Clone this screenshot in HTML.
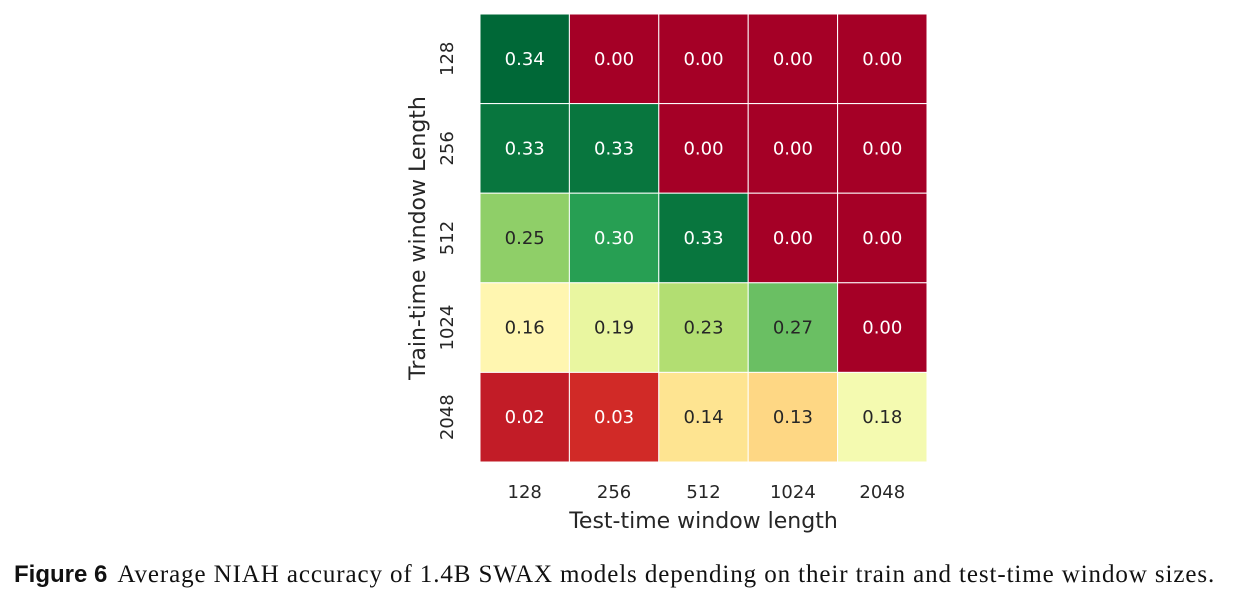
<!DOCTYPE html>
<html><head><meta charset="utf-8"><style>
body{margin:0;background:#fff;width:1242px;height:599px;overflow:hidden;position:relative}
svg{position:absolute;left:0;top:0}
#cap{position:absolute;left:14px;top:561px;white-space:nowrap;font-family:"Liberation Serif",serif;font-size:25px;color:#111}
#cap b{font-family:"Liberation Sans",sans-serif;font-size:24px;margin-right:10px}
#cap span{letter-spacing:0.9px}
</style></head><body>
<svg id="chart" width="1242" height="560"></svg>
<div id="cap"><b>Figure 6</b><span>Average NIAH accuracy of 1.4B SWAX models depending on their train and test-time window sizes.</span></div>
<script>
const testLengths=["128","256","512","1024","2048"];
const trainLengths=["128","256","512","1024","2048"];
const row128=[0.34,0.00,0.00,0.00,0.00];
const row256=[0.33,0.33,0.00,0.00,0.00];
const row512=[0.25,0.30,0.33,0.00,0.00];
const row1024=[0.16,0.19,0.23,0.27,0.00];
const row2048=[0.02,0.03,0.14,0.13,0.18];
const values=[row128,row256,row512,row1024,row2048];
const vmin=0,vmax=0.34;
const stops=["#a50026","#d73027","#f46d43","#fdae61","#fee08b","#ffffbf","#d9ef8b","#a6d96a","#66bd63","#1a9850","#006837"];
function hex(h){return [1,3,5].map(i=>parseInt(h.substr(i,2),16));}
function cmap(v){let t=Math.max(0,Math.min(1,(v-vmin)/(vmax-vmin)))*(stops.length-1);let i=Math.min(Math.floor(t),stops.length-2),f=t-i;let a=hex(stops[i]),b=hex(stops[i+1]);let c=a.map((x,k)=>Math.round(x+(b[k]-x)*f));return {c:`rgb(${c})`,l:(0.299*c[0]+0.587*c[1]+0.114*c[2])};}
const X0=480,Y0=14,W=447,H=448;
const cw=W/testLengths.length,ch=H/trainLengths.length;
const xs=i=>X0+i*cw, ys=j=>Y0+j*ch;
const svg=document.getElementById('chart');const NS="http://www.w3.org/2000/svg";
function el(t,a){const e=document.createElementNS(NS,t);for(const k in a)e.setAttribute(k,a[k]);svg.appendChild(e);return e;}
values.forEach((row,j)=>row.forEach((v,i)=>{
 const m=cmap(v);
 const r=el('rect',{x:xs(i),y:ys(j),width:cw,height:ch,fill:m.c,stroke:'#fff','stroke-width':1});
 
 
 const t=el('text',{x:xs(i)+cw/2,y:ys(j)+ch/2+6,'text-anchor':'middle','font-family':'DejaVu Sans,sans-serif','font-size':18,fill:m.l<140?'#fff':'#262626'});
 t.textContent=v.toFixed(2);
 
 
}));
testLengths.forEach((s,i)=>{const t=el('text',{x:xs(i)+cw/2,y:498,'text-anchor':'middle','font-family':'DejaVu Sans,sans-serif','font-size':18,fill:'#262626'});t.textContent=s;
 
 });
trainLengths.forEach((s,j)=>{const cy=ys(j)+ch/2;const t=el('text',{x:453,y:cy,'text-anchor':'middle','font-family':'DejaVu Sans,sans-serif','font-size':18,fill:'#262626',transform:`rotate(-90 453 ${cy})`});t.textContent=s;
 
 });
const xt=el('text',{x:X0+W/2,y:528,'text-anchor':'middle','font-family':'DejaVu Sans,sans-serif','font-size':22,fill:'#262626'});xt.textContent='Test-time window length';


const yt=el('text',{x:425,y:238,'text-anchor':'middle','font-family':'DejaVu Sans,sans-serif','font-size':22,fill:'#262626',transform:'rotate(-90 425 238)'});yt.textContent='Train-time window Length';


</script>
</body></html>
